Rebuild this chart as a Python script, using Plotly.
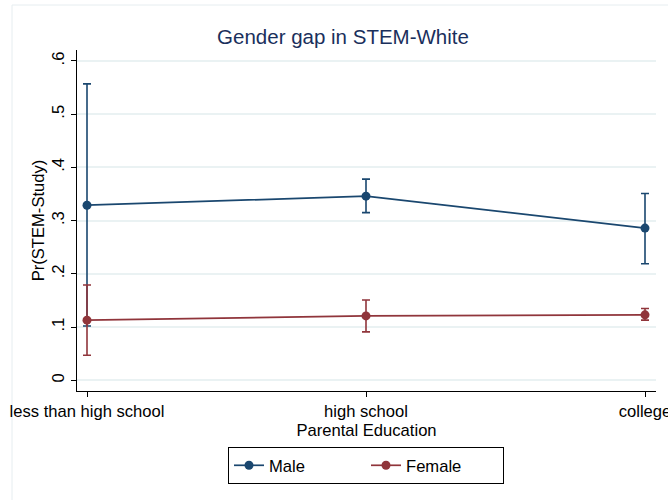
import plotly.graph_objects as go

# Parental education categories
categories = ["less than high school", "high school", "college"]
cat_pos = [1, 2, 3]

# Predicted probability of STEM study with confidence bounds
male_mean = [0.329, 0.346, 0.286]
male_upper = [0.557, 0.378, 0.351]
male_lower = [0.102, 0.315, 0.219]

female_mean = [0.113, 0.121, 0.123]
female_upper = [0.179, 0.151, 0.135]
female_lower = [0.047, 0.091, 0.113]

y_ticks = [0, 0.1, 0.2, 0.3, 0.4, 0.5, 0.6]
y_tick_labels = ["0", ".1", ".2", ".3", ".4", ".5", ".6"]

NAVY = "#1a476f"
MAROON = "#90353b"
FONT = "Liberation Sans, Arial, sans-serif"
FS = 16.6

W, H = 668, 500
L, R, T, B = 77, 12, 50, 109
plot_w = W - L - R
plot_h = H - T - B


def series(name, mean, upper, lower, color):
    return go.Scatter(
        x=cat_pos, y=mean, name=name, mode="lines+markers",
        line=dict(color=color, width=1.7),
        marker=dict(color=color, size=9),
        error_y=dict(
            type="data", symmetric=False,
            array=[u - m for u, m in zip(upper, mean)],
            arrayminus=[m - l for m, l in zip(mean, lower)],
            color=color, thickness=1.6, width=4,
        ),
    )


fig = go.Figure()
fig.add_trace(series("Male", male_mean, male_upper, male_lower, NAVY))
fig.add_trace(series("Female", female_mean, female_upper, female_lower, MAROON))

fig.update_layout(
    width=W, height=H,
    margin=dict(l=L, r=R, t=T, b=B, autoexpand=False),
    paper_bgcolor="white", plot_bgcolor="white",
    font=dict(family=FONT, size=FS, color="black"),
    title=dict(
        text="Gender gap in STEM-White",
        font=dict(family=FONT, size=20.5, color="#1a2f5c"),
        xref="container", x=343 / W, xanchor="center",
        yref="container", y=1 - 37 / H, yanchor="middle",
    ),
    showlegend=True,
    legend=dict(
        orientation="h", xref="paper", x=(366 - L) / plot_w, xanchor="center",
        yref="paper", y=(391 - 447) / plot_h, yanchor="top",
        bordercolor="black", borderwidth=1, bgcolor="white",
        font=dict(family=FONT, size=FS, color="black"),
        itemwidth=30, entrywidth=92, entrywidthmode="pixels",
    ),
    shapes=[dict(
        type="rect", xref="paper", yref="paper",
        x0=(12 - L) / plot_w, x1=1.2,
        y0=-0.5, y1=(391 - 5) / plot_h,
        line=dict(color="#e6edf0", width=1), layer="below",
    )],
)

fig.update_xaxes(
    range=[1 - 10 / 279, 3 + 11 / 279], automargin=False,
    tickvals=cat_pos, ticktext=categories, ticklabeloverflow="allow",
    showline=True, linecolor="black", linewidth=1,
    ticks="outside", ticklen=5, tickcolor="black",
    showgrid=False, zeroline=False,
    tickfont=dict(family=FONT, size=FS),
    title=dict(text="Parental Education", font=dict(family=FONT, size=FS), standoff=0),
)

fig.update_yaxes(
    range=[-0.0201, 0.6206], automargin=False,
    tickvals=y_ticks, ticktext=y_tick_labels, tickangle=-90,
    showline=True, linecolor="black", linewidth=1,
    ticks="outside", ticklen=5, tickcolor="black",
    showgrid=True, gridcolor="#eaf2f3", gridwidth=1.5,
    zeroline=False,
    tickfont=dict(family=FONT, size=FS),
    title=dict(text="Pr(STEM-Study)", font=dict(family=FONT, size=FS), standoff=0),
)

fig.write_html("out.html")
